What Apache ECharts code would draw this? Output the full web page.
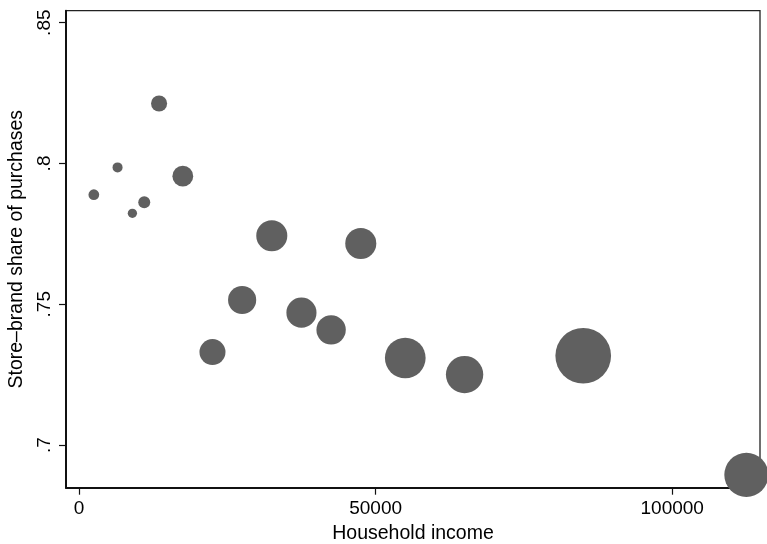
<!DOCTYPE html>
<html>
<head>
<meta charset="utf-8">
<script src="https://cdn.jsdelivr.net/npm/echarts@6/dist/echarts.min.js"></script>
<style>
  html, body { margin: 0; padding: 0; background: #fff; }
  #chart { width: 767px; height: 544px; }
</style>
</head>
<body>
<div id="chart"></div>
<script>
// Household income groups (bin midpoints, dollars)
const income = [2500, 6500, 9000, 11000, 13500, 17500, 22500, 27500, 32500, 37500, 42500, 47500, 55000, 65000, 85000, 112500];
// Store-brand share of purchases in each income group
const share = [0.7889, 0.7986, 0.7823, 0.7862, 0.8213, 0.7955, 0.7330, 0.7515, 0.7743, 0.7470, 0.7409, 0.7716, 0.7309, 0.7250, 0.7317, 0.6894];
// Share of households in each group (%), used as the bubble weight
const households = [0.8, 0.7, 0.6, 1.0, 1.8, 3.0, 4.7, 5.5, 6.7, 6.3, 6.0, 6.7, 11.5, 9.7, 21.5, 13.5];

const xTicks = [0, 50000, 100000];
const yTicks = [0.7, 0.75, 0.8, 0.85];

const FONT = '"Liberation Sans", Arial, Helvetica, sans-serif';
const points = income.map((x, i) => [x, share[i], households[i]]);

const chart = echarts.init(document.getElementById('chart'), null, { renderer: 'canvas' });
chart.setOption({
  animation: false,
  backgroundColor: '#ffffff',
  grid: {
    left: 66, right: 7, top: 10.7, bottom: 56.3,
    outerBoundsMode: 'none',
    containLabel: false,
    show: true, borderColor: '#222', borderWidth: 1.3, backgroundColor: '#ffffff'
  },
  xAxis: {
    type: 'value',
    min: -2191, max: 114800,
    name: 'Household income',
    nameLocation: 'middle',
    nameGap: 27,
    nameTextStyle: { fontFamily: FONT, fontSize: 19.5, color: '#000', verticalAlign: 'top' },
    axisLine: { show: true, onZero: false, lineStyle: { color: '#111', width: 2 } },
    axisTick: { show: true, length: 7, customValues: xTicks, lineStyle: { color: '#111', width: 1.2 } },
    axisLabel: {
      customValues: xTicks, margin: 12,
      fontFamily: FONT, fontSize: 19, color: '#000',
      formatter: v => String(v)
    },
    splitLine: { show: false }
  },
  yAxis: {
    type: 'value',
    min: 0.68483, max: 0.85426,
    name: 'Store–brand share of purchases',
    nameLocation: 'middle',
    nameRotate: 90,
    nameGap: 37,
    nameTextStyle: { fontFamily: FONT, fontSize: 19.5, color: '#000' },
    axisLine: { show: true, onZero: false, lineStyle: { color: '#111', width: 2 } },
    axisTick: { show: true, length: 7, customValues: yTicks, lineStyle: { color: '#111', width: 1.2 } },
    axisLabel: {
      customValues: yTicks, margin: 12, rotate: 90,
      fontFamily: FONT, fontSize: 19, color: '#000',
      formatter: v => String(Math.round(v * 100) / 100).replace(/^0\./, '.')
    },
    splitLine: { show: false }
  },
  series: [{
    type: 'scatter',
    data: points,
    clip: false,
    symbol: 'circle',
    symbolSize: d => 12 * Math.sqrt(d[2]),
    itemStyle: { color: '#606060', opacity: 1 },
    z: 2
  }]
});
</script>
</body>
</html>
